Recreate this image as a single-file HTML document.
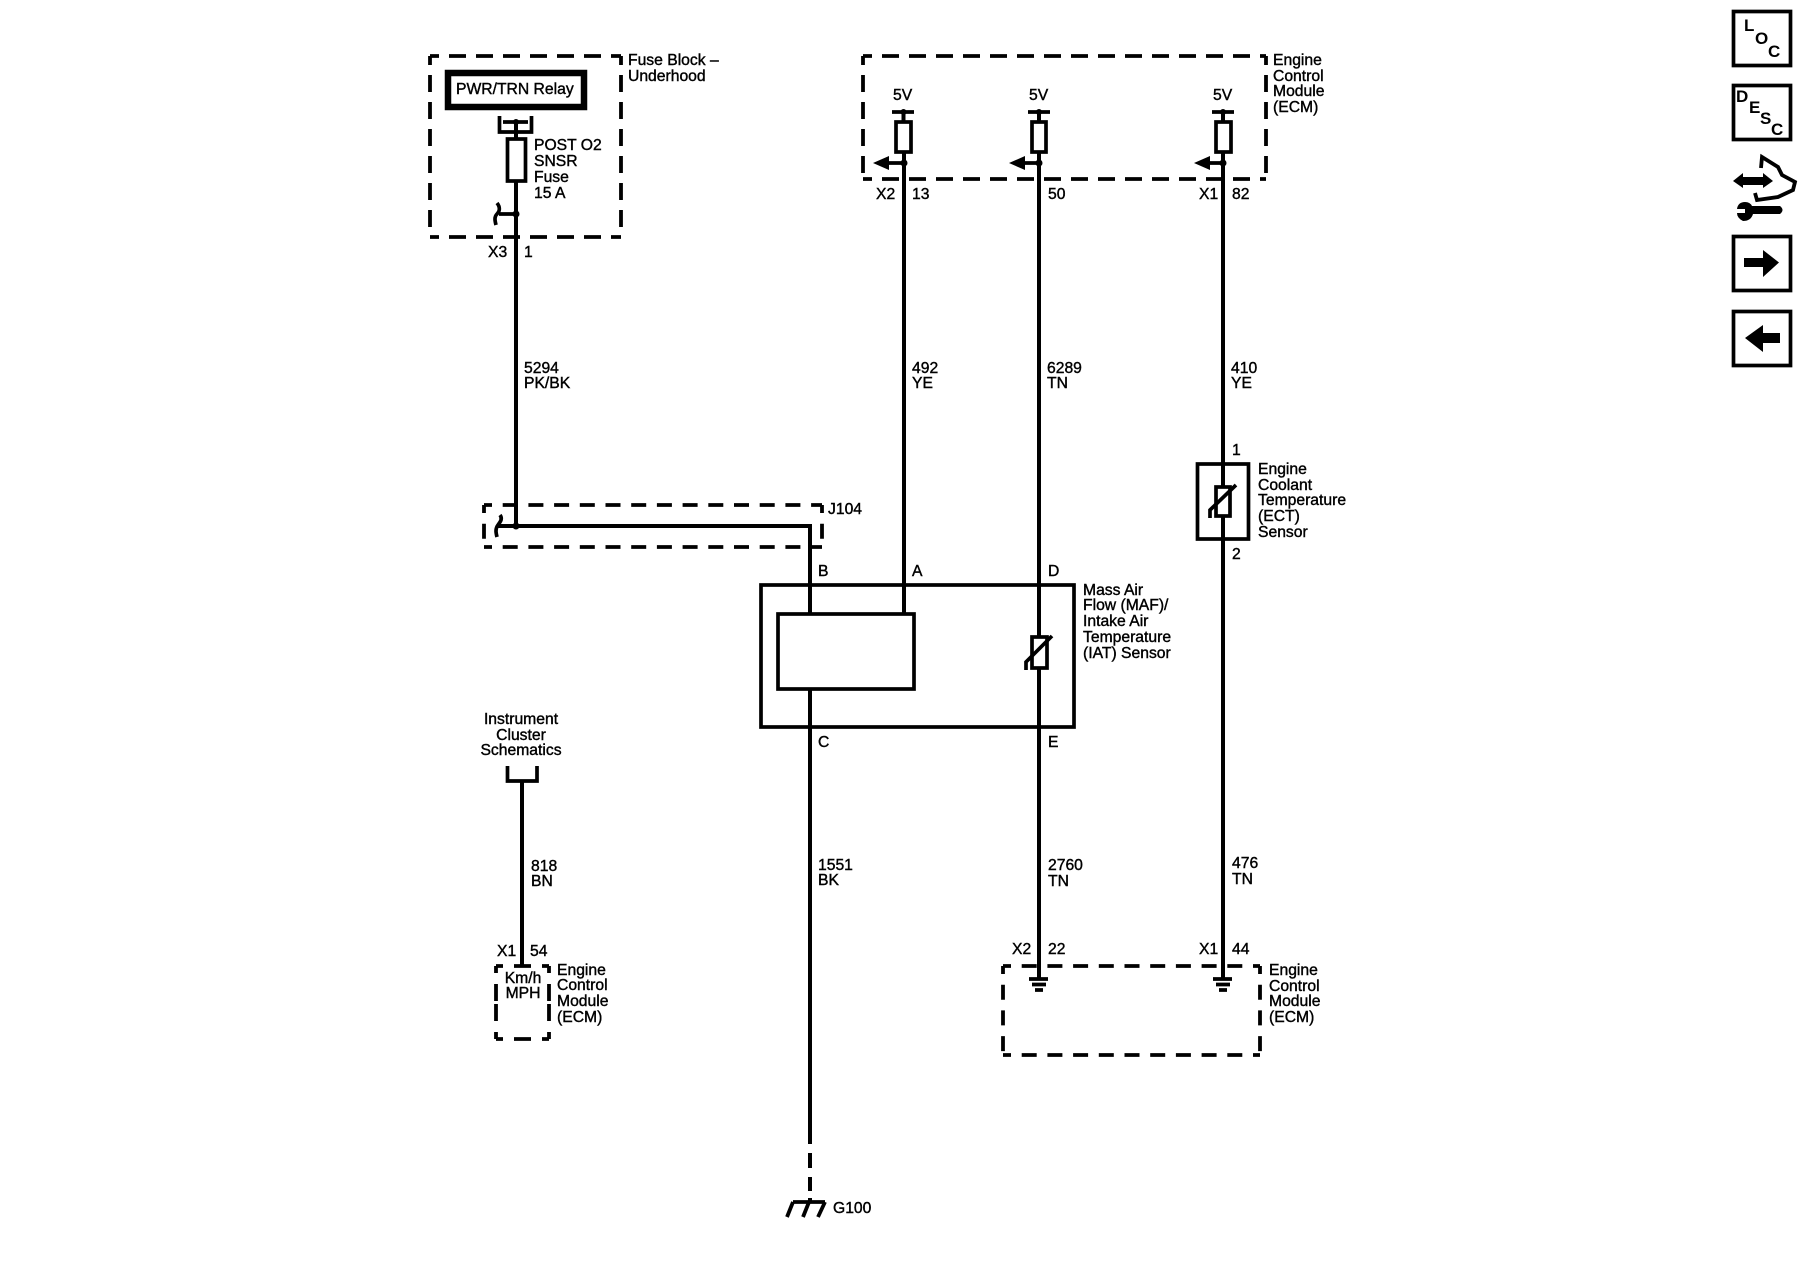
<!DOCTYPE html>
<html><head><meta charset="utf-8"><style>
html,body{margin:0;padding:0;background:#fff;width:1800px;height:1280px;overflow:hidden}
svg{display:block}
text{font-family:"Liberation Sans",sans-serif;font-size:15.7px;fill:#000;stroke:#000;stroke-width:.4}
.w{stroke:#000;stroke-width:4;fill:none}
.b{stroke:#000;stroke-width:3.7;fill:none}
.d{stroke:#000;stroke-width:3.8;fill:none;stroke-dasharray:17 10;stroke-dashoffset:8}
.d2{stroke:#000;stroke-width:3.8;fill:none;stroke-dasharray:15 10.7;stroke-dashoffset:7}
.d3{stroke:#000;stroke-width:3.8;fill:none;stroke-dasharray:17 11;stroke-dashoffset:10}
.i{font-weight:bold;font-size:17px;stroke:none}
</style></head><body>
<svg width="1800" height="1280" viewBox="0 0 1800 1280" xmlns="http://www.w3.org/2000/svg">
<!-- Fuse block -->
<path class="d" d="M430 56H621M430 56V237M430 237H621M621 56V237"/>
<rect x="448" y="73" width="136" height="34" fill="none" stroke="#000" stroke-width="6.5"/>
<text x="456" y="94">PWR/TRN Relay</text>
<path class="b" d="M499.500 116V132H531.500V116M503 122H528"/>
<circle cx="516" cy="122" r="3"/>
<rect x="507.500" y="139" width="18" height="42" class="b"/>
<path class="w" d="M516 122V139M516 181V526"/>
<circle cx="516" cy="214" r="3.500"/>
<path class="b" d="M516 214H499M497 203C501 208 499 212 497 214C494 217 495 221 496 225"/>
<text x="534" y="150">POST O2</text><text x="534" y="166">SNSR</text><text x="534" y="182">Fuse</text><text x="534" y="198">15 A</text>
<text x="628" y="65">Fuse Block –</text><text x="628" y="81">Underhood</text>
<text x="488" y="257">X3</text><text x="524" y="257">1</text>
<text x="524" y="373">5294</text><text x="524" y="388">PK/BK</text>
<!-- ECM top -->
<path class="d" d="M863 56H1266M863 56V179M863 179H1266M1266 56V179"/>
<text x="1273" y="65">Engine</text><text x="1273" y="81">Control</text><text x="1273" y="96">Module</text><text x="1273" y="112">(ECM)</text>
<text x="893" y="100">5V</text><text x="1029" y="100">5V</text><text x="1213" y="100">5V</text>
<path class="b" d="M892 112H914M1028 112H1050M1212 112H1234"/>
<circle cx="903.500" cy="112" r="3"/><circle cx="1039" cy="112" r="3"/><circle cx="1223" cy="112" r="3"/>
<path class="w" d="M903.500 112V121M1039 112V121M1223 112V121"/>
<rect x="896" y="122" width="15" height="30" class="b"/><rect x="1032" y="122" width="14" height="30" class="b"/><rect x="1216" y="122" width="15" height="30" class="b"/>
<circle cx="904" cy="163" r="3.500"/><circle cx="1039" cy="163" r="3.500"/><circle cx="1223" cy="163" r="3.500"/>
<path class="b" d="M889 163H904M1024 163H1039M1208 163H1223"/>
<path d="M873 163L889 156V170ZM1009 163L1025 156V170ZM1194 163L1210 156V170Z"/>
<text x="876" y="199">X2</text><text x="912" y="199">13</text><text x="1048" y="199">50</text><text x="1199" y="199">X1</text><text x="1232" y="199">82</text>
<path class="w" d="M904 152V614M1039 152V637M1039 668V978M1223 152V487M1223 516V978"/>
<text x="912" y="373">492</text><text x="912" y="388">YE</text>
<text x="1047" y="373">6289</text><text x="1047" y="388">TN</text>
<text x="1231" y="373">410</text><text x="1231" y="388">YE</text>
<!-- ECT -->
<rect x="1197.500" y="464" width="51" height="75" class="b"/>
<rect x="1216" y="487" width="14" height="29" fill="#fff" class="b"/>
<path class="b" d="M1210 518V510L1236 485"/>
<path class="w" d="M1223 464V487M1223 516V539"/>
<text x="1232" y="455">1</text><text x="1232" y="559">2</text>
<text x="1258" y="474">Engine</text><text x="1258" y="490">Coolant</text><text x="1258" y="505">Temperature</text><text x="1258" y="521">(ECT)</text><text x="1258" y="537">Sensor</text>
<!-- J104 -->
<path class="d2" d="M484 505H822M484 505V547M484 547H822M822 505V547"/>
<path class="w" d="M498 526H810V614"/>
<circle cx="516" cy="526" r="3.500"/>
<path class="b" d="M500 515C503 519 500 522 498 525C495 529 496 533 497 537"/>
<text x="828" y="514">J104</text>
<!-- MAF -->
<text x="818" y="576">B</text><text x="912" y="576">A</text><text x="1048" y="576">D</text>
<rect x="761" y="585" width="313" height="142" class="b"/>
<rect x="778" y="614" width="136" height="75" fill="#fff" class="b"/>
<rect x="1032" y="637" width="15" height="31" fill="#fff" class="b"/>
<path class="b" d="M1026 670V662L1052 636"/>
<path class="w" d="M810 585V614M904 585V614M1039 585V637M1039 668V727"/>
<path class="w" d="M810 689V1144"/>
<path class="w" d="M810 1153V1168M810 1177V1191M810 1198V1203"/>
<path class="b" d="M793 1202H825"/>
<path fill="none" stroke="#000" stroke-width="3.800" d="M793 1202L787 1217M809 1202L803 1217M825 1202L818 1217"/>
<text x="833" y="1213">G100</text>
<text x="818" y="747">C</text><text x="1048" y="747">E</text>
<text x="818" y="870">1551</text><text x="818" y="885">BK</text>
<text x="1083" y="595">Mass Air</text><text x="1083" y="610">Flow (MAF)/</text><text x="1083" y="626">Intake Air</text><text x="1083" y="642">Temperature</text><text x="1083" y="658">(IAT) Sensor</text>
<!-- Instrument -->
<g text-anchor="middle"><text x="521" y="724">Instrument</text><text x="521" y="740">Cluster</text><text x="521" y="755">Schematics</text></g>
<path class="b" d="M507.500 766V781H537V766"/>
<path class="w" d="M522 781V966"/>
<text x="531" y="871">818</text><text x="531" y="886">BN</text>
<text x="497" y="956">X1</text><text x="530" y="956">54</text>
<path class="d3" d="M496 966H549M549 1039H496M496 966V1002.500M496 1039V1002.500M549 966V1002.500M549 1039V1002.500"/>
<g text-anchor="middle"><text x="523" y="983">Km/h</text><text x="523" y="998">MPH</text></g>
<text x="557" y="975">Engine</text><text x="557" y="990">Control</text><text x="557" y="1006">Module</text><text x="557" y="1022">(ECM)</text>
<!-- ECM bottom -->
<path class="d2" d="M1003 966H1260M1003 966V1055M1003 1055H1260M1260 966V1055"/>
<text x="1048" y="870">2760</text><text x="1048" y="886">TN</text>
<text x="1232" y="868">476</text><text x="1232" y="884">TN</text>
<text x="1012" y="954">X2</text><text x="1048" y="954">22</text><text x="1199" y="954">X1</text><text x="1232" y="954">44</text>
<path class="b" d="M1029 979H1048M1032 984.500H1046M1035 990H1043M1213 979H1232M1216 984.500H1230M1219 990H1227"/>
<text x="1269" y="975">Engine</text><text x="1269" y="991">Control</text><text x="1269" y="1006">Module</text><text x="1269" y="1022">(ECM)</text>
<!-- Icons -->
<rect x="1733.500" y="11.500" width="57" height="54" class="b"/>
<text class="i" x="1744" y="31">L</text><text class="i" x="1755" y="44">O</text><text class="i" x="1768" y="57">C</text>
<rect x="1733.500" y="85.500" width="57" height="54" class="b"/>
<text class="i" x="1736" y="102">D</text><text class="i" x="1749" y="113">E</text><text class="i" x="1760" y="124">S</text><text class="i" x="1771" y="135">C</text>
<path d="M1733 181L1743 173V177H1763V173L1773 181L1763 188V185H1743V188Z"/>
<path fill="none" stroke="#000" stroke-width="3.800" d="M1761 168L1762 157L1778 167L1782 175L1795 182L1793 190L1778 197L1757 200L1755 193"/>
<path d="M1752 206H1780Q1785 210 1780 214H1753Q1751 221 1743 221Q1737 218 1737 213H1745V209H1737Q1738 202 1745 202Q1750 202 1752 206Z"/>
<rect x="1733.500" y="236.500" width="57" height="54" class="b"/>
<path d="M1744 258H1763V250L1779 262.500L1763 277V267H1744Z"/>
<rect x="1733.500" y="311.500" width="57" height="54" class="b"/>
<path d="M1745 338L1763 325V333H1780V343H1763V352Z"/>
</svg>
</body></html>
